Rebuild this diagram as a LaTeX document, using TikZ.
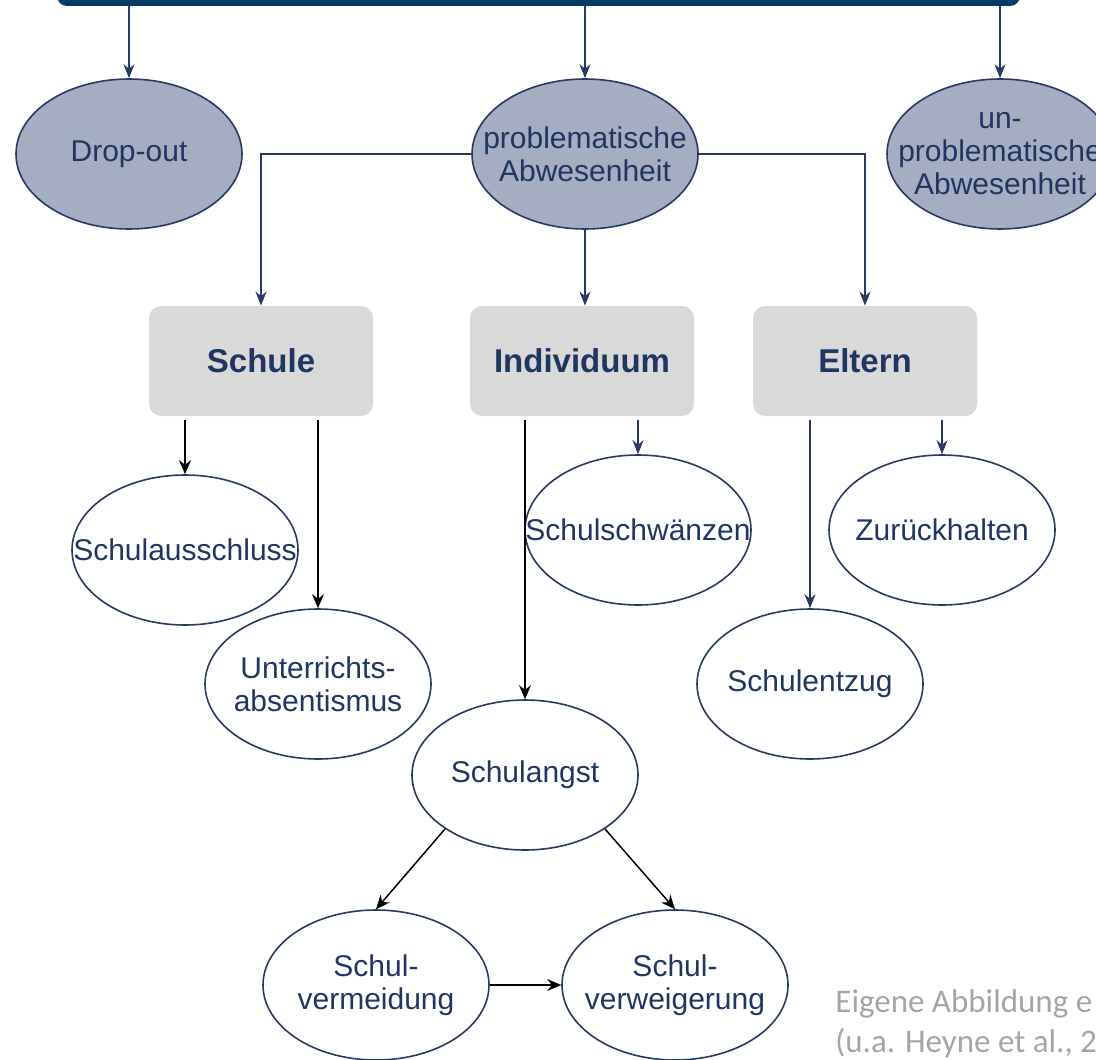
\documentclass[tikz,border=0pt]{standalone}
\usepackage{fontspec}
\setmainfont{Liberation Sans}
\newfontfamily\capfont{Carlito}
\usetikzlibrary{arrows.meta,shapes.geometric}
\definecolor{BarClr}{RGB}{4,59,103}
\definecolor{LineClr}{RGB}{38,58,100}
\definecolor{OvalClr}{RGB}{164,173,194}
\definecolor{TextClr}{RGB}{31,54,98}
\definecolor{BoxClr}{RGB}{217,217,217}
\definecolor{CapClr}{RGB}{165,165,165}

\begin{document}
\begin{tikzpicture}[x=0.5pt,y=-0.5pt,
  oval/.style={ellipse,draw=LineClr,line width=0.8pt,minimum width=113pt,minimum height=75pt,inner sep=0pt},
  softoval/.style={oval,fill=OvalClr},
  lbl/.style={font=\fontsize{15}{16.5}\selectfont,text=TextClr,align=center,inner sep=0pt},
  group/.style={rounded corners=6pt,fill=BoxClr,minimum width=112pt,minimum height=55pt,
    font=\fontsize{16.5}{19}\selectfont\bfseries,text=TextClr},
  blu/.style={draw=LineClr,line width=0.75pt,-{Stealth[length=7pt,width=5.5pt]}},
  blk/.style={draw=black,line width=0.75pt,-{Stealth[length=7pt,width=6pt]}}]

\useasboundingbox (0,0) rectangle (1096,1059);
\clip (0,0) rectangle (1096,1059);

% top bar
\node[fill=BarClr,rounded corners=5pt,minimum width=481.5pt,minimum height=20pt,inner sep=0pt] (top) at (538.5,-14) {};

% first row
\node[softoval,label={[lbl]center:Drop-out}] (drop) at (129,154) {};
\node[softoval,label={[lbl]center:{problematische\\Abwesenheit}}] (prob) at (585,154) {};
\node[softoval,label={[lbl]center:{un-\\problematische\\Abwesenheit}}] (unprob) at (1000,154) {};

\draw[blu] (top.south -| drop) -- (drop.north);
\draw[blu] (top.south -| prob) -- (prob.north);
\draw[blu] (top.south -| unprob) -- (unprob.north);

% groups
\node[group] (schule) at (261,361) {Schule};
\node[group] (indiv) at (582,361) {Individuum};
\node[group] (eltern) at (865,361) {Eltern};

\draw[blu] (prob.west) -| (schule.north);
\draw[blu] (prob.east) -| (eltern.north);
\draw[blu] (prob.south) -- (prob.south |- indiv.north);

% forms
\node[oval,label={[lbl]center:Schulausschluss}] (aus) at (185,550) {};
\node[oval,label={[lbl]center:{Unterrichts-\\absentismus}}] (abs) at (318,684) {};
\node[oval,label={[lbl]center:Schulschwänzen}] (schw) at (638,530) {};
\node[oval,label={[lbl]center:Schulangst}] (angst) at (525,775) {};
\node[oval,label={[lbl]center:Zurückhalten}] (zur) at (942,530) {};
\node[oval,label={[lbl]center:Schulentzug}] (entz) at (810,684) {};
\node[oval,label={[lbl]center:{Schul-\\vermeidung}}] (verm) at (376,985) {};
\node[oval,label={[lbl]center:{Schul-\\verweigerung}}] (verw) at (675,985) {};

\draw[blk,shorten <=2pt] (aus.north |- schule.south) -- (aus.north);
\draw[blk,shorten <=2pt] (abs.north |- schule.south) -- (abs.north);
\draw[blk,shorten <=2pt] (angst.north |- indiv.south) -- (angst.north);
\draw[blu,shorten <=2pt] (schw.north |- indiv.south) -- (schw.north);
\draw[blu,shorten <=2pt] (entz.north |- eltern.south) -- (entz.north);
\draw[blu,shorten <=2pt] (zur.north |- eltern.south) -- (zur.north);

\draw[blk] (angst.214) -- (verm.north);
\draw[blk] (angst.326) -- (verw.north);
\draw[blk] (verm.east) -- (verw.west);

% source
\node[anchor=north west,align=left,inner sep=0pt,text=CapClr,font=\capfont\fontsize{16.5}{20}\selectfont] (src) at (835,989)
  {Eigene Abbildung e\\(u.a. Heyne et al., 2};
\end{tikzpicture}
\end{document}
